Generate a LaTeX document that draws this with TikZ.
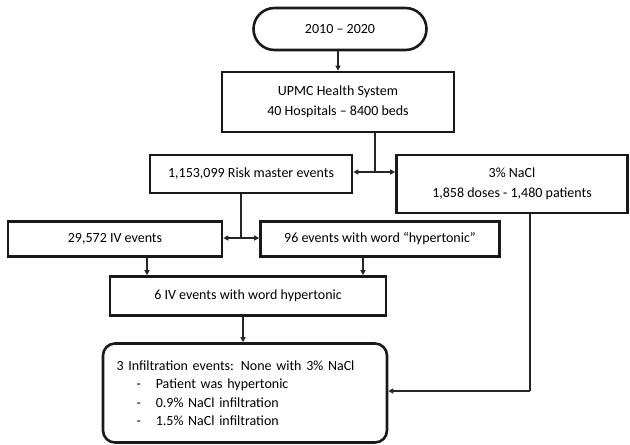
\documentclass[tikz,border=0pt]{standalone}
\usepackage{fontspec}
\setmainfont{Carlito}
\usetikzlibrary{arrows.meta}
\begin{document}
\begin{tikzpicture}[x=1pt,y=-1pt,
  box/.style={draw=black!90,line width=2.6pt,inner sep=2pt,align=center,font=\fontsize{14}{19.5}\selectfont},
  conn/.style={line width=1.7pt,draw=black!85},
  arr/.style={conn,-{Triangle[length=5pt,width=5pt]}}]
\useasboundingbox (0,0) rectangle (630,445);
\node[box,rounded corners=21pt,minimum width=173pt,minimum height=42pt] (pill) at (340,29) {2010 – 2020};
\node[box,minimum width=232pt,minimum height=60pt] (upmc) at (338,102) {UPMC Health System\\40 Hospitals – 8400 beds};
\node[box,minimum width=202pt,minimum height=38pt] (risk) at (251,174) {1,153,099 Risk master events};
\node[box,minimum width=231pt,minimum height=58pt] (nacl) at (512,184) {3\% NaCl\\1,858 doses - 1,480 patients};
\node[box,minimum width=214pt,minimum height=35pt] (iv) at (115,239) {29,572 IV events};
\node[box,minimum width=239pt,minimum height=35pt] (hyp) at (380,239) {96 events with word “hypertonic”};
\node[box,minimum width=276pt,minimum height=39pt] (six) at (248,296) {6 IV events with word hypertonic};
\node[box,rounded corners=12pt,minimum width=284pt,minimum height=99pt,align=left,text width=257pt,font=\fontsize{14}{18.5}\selectfont] (bot) at (245,393)
  {3 Infiltration events: None with 3\% NaCl\\
   \hspace*{20pt}-\hspace*{15pt}Patient was hypertonic\\
   \hspace*{20pt}-\hspace*{15pt}0.9\% NaCl infiltration\\
   \hspace*{20pt}-\hspace*{15pt}1.5\% NaCl infiltration};
\coordinate (j1) at (375,172);
\coordinate (j2) at (241,238);
\coordinate (j3) at (530,391);
\coordinate (a1) at (147,0);
\coordinate (a2) at (363,0);
\coordinate (a3) at (243,0);
\draw[arr] (pill.south -| upmc.north) -- (upmc.north);
\draw[conn] (upmc.south -| j1) -- (j1);
\draw[arr] (j1) -- (j1 -| risk.east);
\draw[arr] (j1) -- (j1 -| nacl.west);
\draw[conn] (risk.south -| j2) -- (j2);
\draw[arr] (j2) -- (j2 -| iv.east);
\draw[arr] (j2) -- (j2 -| hyp.west);
\draw[arr] (iv.south -| a1) -- (six.north -| a1);
\draw[arr] (hyp.south -| a2) -- (six.north -| a2);
\draw[arr] (six.south -| a3) -- (bot.north -| a3);
\draw[conn] (nacl.south -| j3) -- (j3);
\draw[arr] (j3) -- (j3 -| bot.east);
\end{tikzpicture}
\end{document}
